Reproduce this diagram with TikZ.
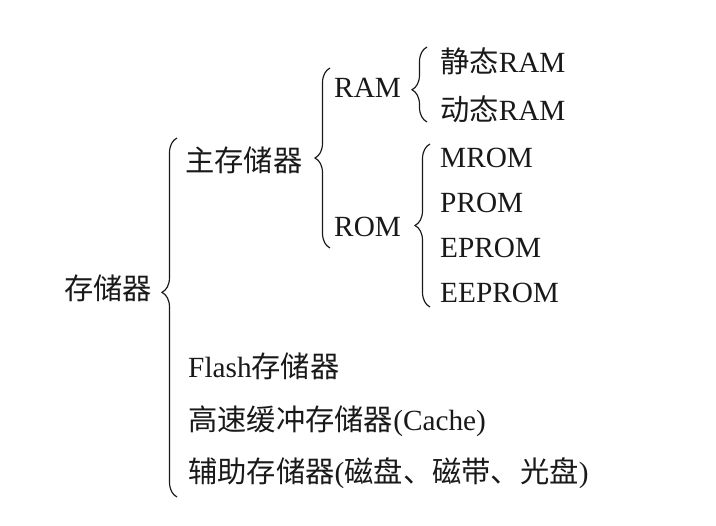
\documentclass[tikz,border=0pt]{standalone}
\usepackage{fontspec}
\setmainfont{Liberation Serif}
\newfontfamily\cjk{Noto Sans CJK SC}
\usetikzlibrary{decorations.pathreplacing,positioning}

\begin{document}
\begin{tikzpicture}[x=0.03cm, y=0.03cm, font=\fontsize{25}{29}\selectfont]
    % Define styles
    \tikzstyle{item} = [inner sep=0pt, anchor=west, text height=0.8em, text depth=0.2em, text=black!90]
    \tikzstyle{curly} = [decorate, decoration={brace, amplitude=0.45cm}, line width=1pt, draw=black!90]
    \useasboundingbox (0,0) rectangle (716,526);

    % Level 1: Storage
    \node[item] (mem) at (64,230) {\cjk 存储器};

    % Level 2: Main memory and the others
    \node[item] (main) at (185,358) {\cjk 主存储器};
    \node[item] (flash) at (188,152) {Flash{\cjk 存储器}};
    \node[item, below=1.59cm of flash.west, anchor=west] (cache) {{\cjk 高速缓冲存储器}(Cache)};
    \node[item, below=1.56cm of cache.west, anchor=west] (aux) {{\cjk 辅助存储器}({\cjk 磁盘、磁带、光盘})};

    % Level 3: RAM and ROM
    \node[item] (ram) at (334,432) {RAM};
    \node[item] (rom) at (334,293) {ROM};

    % Level 4: RAM kinds
    \node[item] (sram) at (440,457) {{\cjk 静态}RAM};
    \node[item, below=1.44cm of sram.west, anchor=west] (dram) {{\cjk 动态}RAM};

    % Level 4: ROM kinds
    \node[item] (mrom) at (440,362) {MROM};
    \node[item, below=1.35cm of mrom.west, anchor=west] (prom) {PROM};
    \node[item, below=1.35cm of prom.west, anchor=west] (eprom) {EPROM};
    \node[item, below=1.35cm of eprom.west, anchor=west] (eeprom) {EEPROM};

    % Brace ends
    \coordinate (memTop) at (177,388);
    \coordinate (memBot) at (177,29);
    \coordinate (mainTop) at (330,458);
    \coordinate (mainBot) at (330,278);
    \coordinate (ramTop) at (427,479);
    \coordinate (ramBot) at (427,404);
    \coordinate (romTop) at (430,382);
    \coordinate (romBot) at (430,219);

    % Braces
    \draw[curly, decoration={aspect=0.57}] (memBot) -- (memTop);
    \draw[curly, decoration={aspect=0.5}] (mainBot) -- (mainTop);
    \draw[curly, decoration={aspect=0.43}] (ramBot) -- (ramTop);
    \draw[curly, decoration={aspect=0.5}] (romBot) -- (romTop);
\end{tikzpicture}
\end{document}
